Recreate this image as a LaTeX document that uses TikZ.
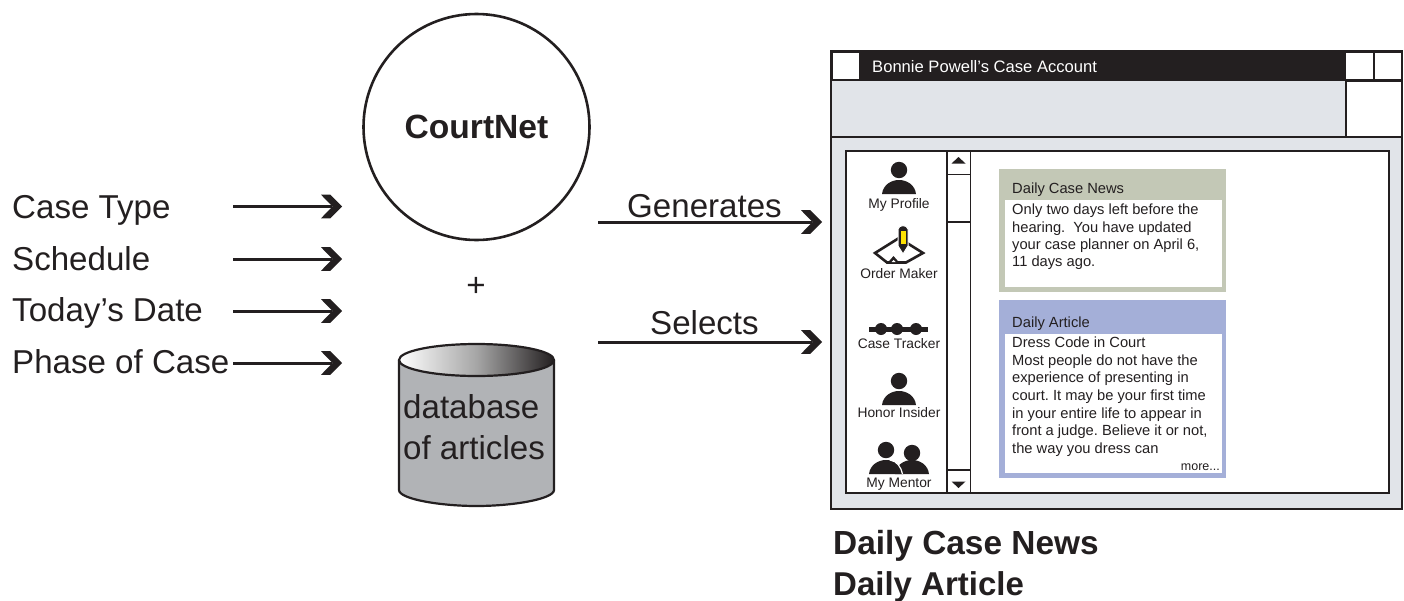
\documentclass[tikz,border=0pt]{standalone}
\usepackage{fontspec}
\setmainfont{Liberation Sans}
\usetikzlibrary{arrows.meta}
\frenchspacing
\definecolor{ink}{HTML}{231F20}
\definecolor{winbg}{HTML}{E1E4E9}
\definecolor{newsbg}{HTML}{C3C8B6}
\definecolor{artbg}{HTML}{A4AFD8}
\definecolor{cylbody}{HTML}{B1B3B6}
\pgfdeclarearrow{
  name=Chevron,
  setup code={
    \pgfarrowssettipend{0pt}
    \pgfarrowssetlineend{-10pt}
    \pgfarrowssetvisualbackend{-21pt}
    \pgfarrowssetbackend{-21pt}
    \pgfarrowshullpoint{0pt}{0pt}
    \pgfarrowshullpoint{-21pt}{11.8pt}
    \pgfarrowshullpoint{-21pt}{-11.8pt}
  },
  drawing code={
    \pgfpathmoveto{\pgfqpoint{0pt}{0pt}}
    \pgfpathlineto{\pgfqpoint{-11.7pt}{11.8pt}}
    \pgfpathlineto{\pgfqpoint{-21pt}{11.8pt}}
    \pgfpathlineto{\pgfqpoint{-9.5pt}{0pt}}
    \pgfpathlineto{\pgfqpoint{-21pt}{-11.8pt}}
    \pgfpathlineto{\pgfqpoint{-11.7pt}{-11.8pt}}
    \pgfpathclose
    \pgfusepathqfill
  }
}
\tikzset{
  big/.style={anchor=base west,inner sep=0pt,text=ink,font=\fontsize{33.1}{33}\selectfont},
  bigb/.style={anchor=base west,inner sep=0pt,text=ink,font=\fontsize{33.4}{33}\selectfont\bfseries},
  small/.style={anchor=base west,inner sep=0pt,text=ink,font=\fontsize{14.7}{14.7}\selectfont},
  iconlabel/.style={anchor=base,inner sep=0pt,text=ink,font=\fontsize{13.8}{13.8}\selectfont},
  flow/.style={draw=ink,line width=3pt,-Chevron},
  frame/.style={draw=ink,line width=2pt},
  thinline/.style={draw=ink,line width=1.5pt},
}
\newcommand{\personicon}[3]{%
  \fill[ink] (#1,#2) circle[radius=8.2];
  \fill[ink] (#1-17,#3) .. controls (#1-16,#3-9) and (#1-8,#3-14) .. (#1,#3-14) .. controls (#1+8,#3-14) and (#1+16,#3-9) .. (#1+17,#3) -- cycle;
}
\begin{document}
\begin{tikzpicture}[x=1pt,y=-1pt]
\useasboundingbox (0,0) rectangle (1404,600);
% CourtNet
\node[circle,draw=ink,line width=2.6pt,minimum size=226pt,inner sep=0pt,text=ink,font=\fontsize{33.6}{33.6}\selectfont\bfseries] (court) at (476.5,127) {CourtNet};
\node[big,anchor=base] (plus) at (476,296) {+};
% inputs
\node[big] (l1) at (12,218) {Case Type};
\node[big] (l2) at (12,270) {Schedule};
\node[big] (l3) at (12,321) {Today’s Date};
\node[big] (l4) at (12,373) {Phase of Case};
\foreach \n/\y in {1/206.5,2/259,3/311,4/363}{
  \coordinate (a\n) at (233,\y);
  \coordinate (b\n) at (342,\y);
  \draw[flow] (a\n) -- (b\n);
}
% database
\fill[cylbody] (399,360) -- (399,490) .. controls (399,499) and (440,506) .. (476.5,506) .. controls (513,506) and (554,499) .. (554,490) -- (554,360) -- cycle;
\draw[draw=ink,line width=2.2pt] (399,360) -- (399,490) .. controls (399,499) and (440,506) .. (476.5,506) .. controls (513,506) and (554,499) .. (554,490) -- (554,360);
\draw[draw=ink,line width=2.2pt,left color=white,right color=ink,middle color=gray!70] (476.5,360) ellipse [x radius=77.5,y radius=16];
\node[big] (db1) at (403,418) {database};
\node[big] (db2) at (403,459) {of articles};
% flows
\coordinate (g1) at (598,222); \coordinate (g2) at (822,222);
\coordinate (s1) at (598,342); \coordinate (s2) at (822,342);
\draw[flow] (g1) -- (g2);
\draw[flow] (s1) -- (s2);
\node[big] (gen) at (627,217) {Generates};
\node[big] (sel) at (650,334) {Selects};
% window
\draw[frame,fill=winbg] (831,51) rectangle (1402,509);
\fill[ink] (831,51) rectangle (1402,80);
\draw[draw=ink,line width=1.4pt] (831,80.5) -- (1402,80.5);
\draw[frame] (831,136.5) -- (1402,136.5);
\fill[white] (832.5,52.5) rectangle (859,78.5);
\fill[white] (1346,52.5) rectangle (1372.5,78.5);
\fill[white] (1374.5,52.5) rectangle (1401,78.5);
\draw[frame,fill=white] (1345.5,80.5) rectangle (1402,136.5);
\node[small,text=white,font=\fontsize{16.6}{16.6}\selectfont] (title) at (872,72.5) {Bonnie Powell’s Case Account};
% inner panel
\draw[frame,fill=white] (845.5,151) rectangle (1388.5,493);
\draw[thinline] (947,151) -- (947,493);
\draw[thinline] (970.5,151) -- (970.5,493);
\draw[thinline] (947,174.5) -- (970.5,174.5);
\draw[thinline] (947,222) -- (970.5,222);
\draw[thinline] (947,470) -- (970.5,470);
\fill[ink] (951.5,163.5) -- (965.5,163.5) -- (958.5,157) -- cycle;
\fill[ink] (951.5,481.5) -- (965.5,481.5) -- (958.5,488) -- cycle;
% news card
\fill[newsbg] (999,169) rectangle (1226,292);
\fill[white] (1004.5,200) rectangle (1222,287);
\node[small] (nt) at (1012,193) {Daily Case News};
\node[small] (n1) at (1012,214) {Only two days left before the};
\node[small] (n2) at (1012,232) {hearing.\ \ You have updated};
\node[small] (n3) at (1012,249) {your case planner on April 6,};
\node[small] (n4) at (1012,266) {11 days ago.};
% article card
\fill[artbg] (999,300) rectangle (1226,478);
\fill[white] (1005,334) rectangle (1222,473);
\node[small] (at) at (1012,327) {Daily Article};
\node[small] (t1) at (1012,347) {Dress Code in Court};
\node[small] (t2) at (1012,365) {Most people do not have the};
\node[small] (t3) at (1012,382) {experience of presenting in};
\node[small] (t4) at (1012,400) {court. It may be your first time};
\node[small] (t5) at (1012,418) {in your entire life to appear in};
\node[small] (t6) at (1012,435) {front a judge. Believe it or not,};
\node[small] (t7) at (1012,453) {the way you dress can};
\node[iconlabel,anchor=base east,font=\fontsize{12.5}{12.5}\selectfont] (more) at (1220,470) {more...};
% icons
\personicon{899}{170}{194}
\node[iconlabel] (i1) at (899,208) {My Profile};
% order maker
\draw[draw=ink,line width=2.6pt,line join=miter] (875,253) -- (899,238) -- (923,253) -- (906,262.5) -- (887,262.5) -- cycle;
\fill[ink] (887,263.5) -- (893.5,256) -- (900,263.5) -- cycle;
\fill[white] (891.5,262) -- (893.5,260) -- (895.5,262) -- cycle;
\draw[white,line width=1pt,fill=ink] (898,229) .. controls (899,224.5) and (907,224.5) .. (908,229) -- (908,246) -- (903,254) -- (898,246) -- cycle;
\fill[yellow!85!orange] (900.5,231) rectangle (905.5,244);
\node[iconlabel] (i2) at (899,278) {Order Maker};
% case tracker
\fill[ink] (869,326.5) rectangle (928,332);
\foreach \cx in {881,897,916}{\fill[ink] (\cx,329) circle[radius=6];}
\node[iconlabel] (i3) at (899,348) {Case Tracker};
\personicon{899}{381}{405}
\node[iconlabel] (i4) at (899,417) {Honor Insider};
% mentor
\personicon{912}{453}{474}
\personicon{886}{450}{474}
\draw[draw=white,line width=1.2pt] (902.5,474) .. controls (901,467) and (897,461) .. (890,460);
\node[iconlabel] (i5) at (899,487) {My Mentor};
% caption
\node[bigb] (c1) at (833,554) {Daily Case News};
\node[bigb,font=\fontsize{33}{33}\selectfont\bfseries] (c2) at (833,595) {Daily Article};
\end{tikzpicture}
\end{document}
